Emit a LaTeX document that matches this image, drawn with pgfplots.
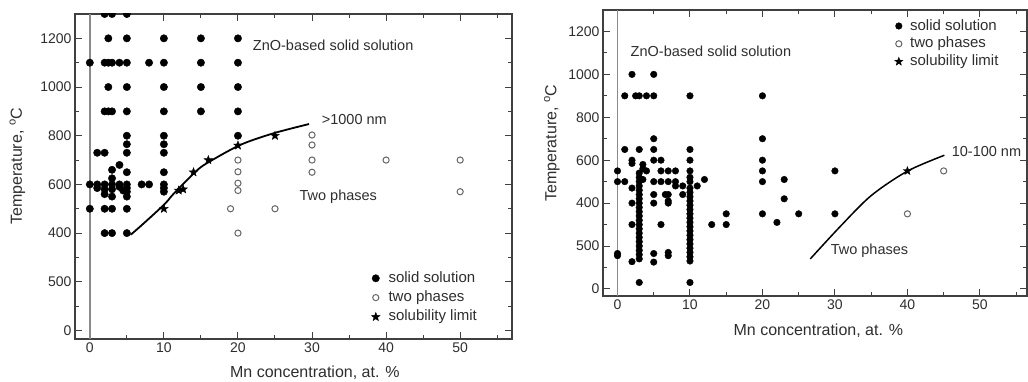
\documentclass[border=0pt]{standalone}
\usepackage{fontspec}
\setmainfont{Liberation Sans}
\usepackage{pgfplots}
\pgfplotsset{compat=1.18}
\definecolor{txt}{HTML}{2E2E2E}
\definecolor{ax}{HTML}{404040}
\definecolor{opn}{HTML}{666666}
\definecolor{vline}{HTML}{8A8A8A}
\pgfdeclareplotmark{fstar}{%
  \pgfpathmoveto{\pgfpointpolar{90}{\pgfplotmarksize}}%
  \pgfpathlineto{\pgfpointpolar{126}{0.42\pgfplotmarksize}}%
  \pgfpathlineto{\pgfpointpolar{162}{\pgfplotmarksize}}%
  \pgfpathlineto{\pgfpointpolar{198}{0.42\pgfplotmarksize}}%
  \pgfpathlineto{\pgfpointpolar{234}{\pgfplotmarksize}}%
  \pgfpathlineto{\pgfpointpolar{270}{0.42\pgfplotmarksize}}%
  \pgfpathlineto{\pgfpointpolar{306}{\pgfplotmarksize}}%
  \pgfpathlineto{\pgfpointpolar{342}{0.42\pgfplotmarksize}}%
  \pgfpathlineto{\pgfpointpolar{18}{\pgfplotmarksize}}%
  \pgfpathlineto{\pgfpointpolar{54}{0.42\pgfplotmarksize}}%
  \pgfpathclose\pgfusepathqfillstroke}
\tikzset{ann/.style={anchor=west, font=\fontsize{14.5}{14.5}\selectfont, text=txt, inner sep=0pt}}
\pgfplotsset{
  panel/.style={
    scale only axis, anchor=south west,
    xmin=-2, ymax=1300,
    xtick={0,10,...,50}, minor xtick={5,15,...,55},
    ytick={0,200,...,1200}, minor ytick={100,300,...,1300},
    yticklabels={0,500,400,600,800,1000,1200},
    tick align=inside, major tick length=7pt, minor tick length=4pt,
    axis line style={ax, line width=1.3pt},
    every tick/.style={ax, line width=1pt},
    tick label style={font=\fontsize{14}{14}\selectfont, text=txt},
    /pgf/number format/assume math mode=true,
    label style={font=\fontsize{16}{16}\selectfont, text=txt},
    xlabel={Mn concentration, at. \%},
    ylabel={Temperature, \textsuperscript{o}C},
    clip marker paths=true,
    legend cell align=left,
    legend style={draw=none, fill=none, inner sep=0pt, outer sep=0pt,
      anchor=north west, font=\fontsize{15}{15}\selectfont, text=txt,
      nodes={inner sep=0pt, text height=11pt, text depth=3pt}},
  },
}
\begin{document}
\begin{tikzpicture}
\useasboundingbox (0,0) rectangle (1028pt,381pt);
% ---------------- left panel ----------------
\begin{axis}[panel, at={(75pt,42pt)}, width=437pt, height=325pt,
  xmax=57, ymin=-35,
  xlabel style={at={(axis description cs:0.549,-0.1037)}, anchor=center},
  ylabel style={at={(axis description cs:-0.1316,0.532)}, anchor=center},
  legend style={at={(axis description cs:0.6785,0.2083)}, column sep=8.5pt, row sep=5.3pt}]
\addplot[vline, line width=1.4pt, forget plot] coordinates {(0,-35) (0,1300)};
\addplot[only marks, mark=*, mark size=3.7pt, black] coordinates {
(2,1300) (3,1300) (5,1300)
(2.5,1200) (5,1200) (10,1200) (15,1200) (20,1200)
(0,1100) (2,1100) (2.5,1100) (3,1100) (4,1100) (5,1100) (8,1100) (10,1100) (15,1100) (20,1100)
(2.5,1000) (5,1000) (10,1000) (15,1000) (20,1000)
(2,900) (2.5,900) (3,900) (5,900) (10,900) (15,900) (20,900)
(5,800) (10,800) (20,800)
(5,765) (10,765)
(1,730) (2,730) (5,730) (10,730)
(4,680) (3,660) (5,650) (10,650) (3,625)
(0,600) (1,600) (2,600) (3,600) (4,600) (5,600) (7,600) (8,600) (10,600)
(1,585) (2,580) (2,560) (3,580) (3,550) (4,590) (4.5,575) (5,585) (5,570) (5,550) (10,585) (10,570)
(0,500) (2,500) (3,500) (5,500)
(2,400) (3,400) (5,400)
};
\addlegendentry{solid solution}
\addplot[only marks, mark=o, mark size=3.1pt, opn, mark options={line width=1pt}] coordinates {
(19,500) (20,400) (20,575) (20,605) (20,652) (20,700) (25,500)
(30,650) (30,700) (30,762) (30,803) (40,700) (50,700) (50,570)
};
\addlegendentry{two phases}
\addplot[black, line width=1.8pt, smooth, forget plot] coordinates {
(5.5,393) (6.8,427) (10,516) (11.3,561) (14.2,650) (15.8,687) (20.3,762) (24.8,810) (29.6,848)
};
\addplot[only marks, mark=fstar, mark size=4.5pt, black] coordinates {
(10,500) (12,575) (12.6,580) (14,650) (16,700) (20,760) (25,800)
};
\addlegendentry{solubility limit}
\node[ann] at (axis cs:22.0,1173) {ZnO-based solid solution};
\node[ann] at (axis cs:31.3,865) {>1000 nm};
\node[ann] at (axis cs:28.3,550) {Two phases};
\end{axis}
% ---------------- right panel ----------------
\begin{axis}[panel, at={(603pt,85pt)}, width=424pt, height=286pt,
  xmax=56.5, ymin=-33,
  xlabel style={at={(axis description cs:0.508,-0.1213)}, anchor=center},
  ylabel style={at={(axis description cs:-0.1203,0.535)}, anchor=center},
  legend style={at={(axis description cs:0.688,0.9685)}, column sep=7.2pt, row sep=3.8pt}]
\addplot[vline, line width=1.4pt, forget plot] coordinates {(0,-33) (0,1300)};
\addplot[only marks, mark=*, mark size=3.3pt, black] coordinates {
(2,1000) (5,1000)
(1,900) (2.5,900) (3,900) (4,900) (5,900) (10,900) (20,900)
(5,700) (20,700)
(1,650) (3,650) (5,650) (10,650)
(2,600) (2,585) (3.5,580) (5,600) (6,600) (10,600) (20,600)
(0,550) (3.5,560) (4,550) (6,550) (7,550) (8,550) (10,550) (20,550)
(0,500) (1,500) (3.5,510) (5,500) (6,500) (7,500) (8,500) (10,500) (12,510) (20,500)
(2,470) (8,480) (9,480) (11,480) (10,520)
(5,440) (6.6,440) (7,440) (9,440)
(2,400) (5,400) (7,400) (7,410)
(2,300) (6,300)
(0,165) (0,155) (2,127) (5,165) (5,125) (7,170) (7,155)
(3,30) (3,140) (3,160) (3,180) (3,200) (3,220) (3,240) (3,260) (3,280) (3,300) (3,320)
(3,340) (3,360) (3,380) (3,400) (3,420) (3,440) (3,460) (3,480) (3,500) (3,520) (3,540)
(10,30) (10,130) (10,150) (10,170) (10,190) (10,210) (10,230) (10,250) (10,270) (10,290)
(10,310) (10,330) (10,350) (10,370) (10,390) (10,410) (10,430) (10,450) (10,470)
(13,300) (15,350) (15,300) (20,350) (22,310) (23,510) (23,420) (25,350) (30,550) (30,350)
};
\addlegendentry{solid solution}
\addplot[only marks, mark=o, mark size=3.1pt, opn, mark options={line width=1pt}] coordinates {
(40,350) (45,550)
};
\addlegendentry{two phases}
\addplot[black, line width=1.5pt, smooth, forget plot] coordinates {
(26.6,140) (30.7,290) (35,435) (40,549) (45.1,623)
};
\addplot[only marks, mark=fstar, mark size=4.3pt, black] coordinates {(40,550)};
\addlegendentry{solubility limit}
\node[ann] at (axis cs:1.8,1108) {ZnO-based solid solution};
\node[ann] at (axis cs:46.1,639) {10-100 nm};
\node[ann] at (axis cs:29.4,178) {Two phases};
\end{axis}
\end{tikzpicture}
\end{document}
